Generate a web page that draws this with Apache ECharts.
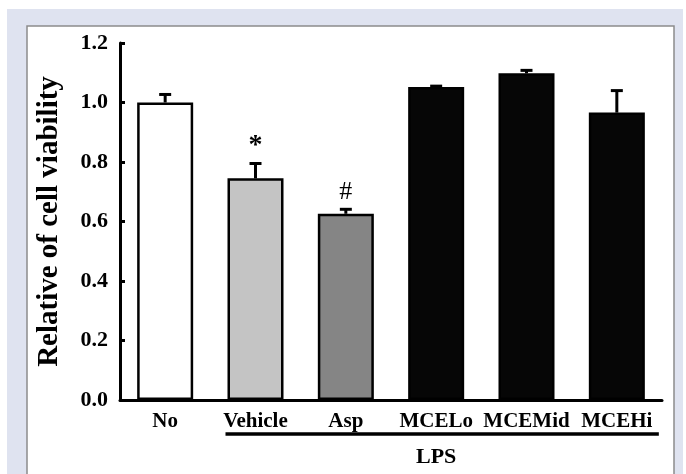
<!DOCTYPE html>
<html>
<head>
<meta charset="utf-8">
<script src="https://cdn.jsdelivr.net/npm/echarts@6/dist/echarts.min.js"></script>
<style>
    body{margin:0;background:#ffffff;}
    #main{width:686px;height:474px;}
</style>
</head>
<body>
<div id="main"></div>
<script>
let categories = ['No', 'Vehicle', 'Asp', 'MCELo', 'MCEMid', 'MCEHi'];
let viability = [1.0, 0.745, 0.626, 1.052, 1.098, 0.966];
let sem = [0.027, 0.05, 0.015, 0.003, 0.01, 0.074];
let signs = ['', '*', '#', '', '', ''];
let barColors = ['#ffffff', '#c4c4c4', '#858585', '#060606', '#060606', '#060606'];
let yTicks = ['0.0', '0.2', '0.4', '0.6', '0.8', '1.0', '1.2'];
let groupLabel = 'LPS';
let groupFrom = 'Vehicle';
let groupTo = 'MCEHi';

let font = '"Liberation Serif", "Times New Roman", serif';

function frame(){
    return [
        {type: 'rect', z: -10, shape: {x: 7, y: 9, width: 676, height: 470}, style: {fill: '#dfe3f0'}},
        {type: 'rect', z: -9, shape: {x: 27, y: 26, width: 647, height: 460}, style: {fill: '#ffffff', stroke: '#8c8c8c', lineWidth: 1.5}}
    ];
}

function main_chart(){
    let myChart = echarts.init(document.getElementById('main'));

    let bar_data = [];
    let err_data = [];
    for(let i = 0; i < categories.length; i++){
        bar_data.push({
            value: viability[i],
            itemStyle: {color: barColors[i]}
        });
        err_data.push([i, viability[i], sem[i], signs[i]]);
    }

    let option = {
        animation: false,
        backgroundColor: '#ffffff',
        graphic: frame(),
        grid: {left: 120, right: 24, top: 43, bottom: 74},
        xAxis: {
            type: 'category',
            data: categories,
            axisLine: {lineStyle: {color: '#000', width: 3}},
            axisTick: {show: false},
            axisLabel: {
                interval: 0,
                color: '#000',
                fontFamily: font,
                fontWeight: 'bold',
                fontSize: 21,
                margin: 11
            }
        },
        yAxis: {
            type: 'value',
            min: 0,
            max: 1.2,
            interval: 0.2,
            name: 'Relative of cell viability',
            nameLocation: 'middle',
            nameGap: 56,
            nameTextStyle: {
                color: '#000',
                fontFamily: font,
                fontWeight: 'bold',
                fontSize: 29
            },
            axisLine: {show: true, lineStyle: {color: '#000', width: 3}},
            axisTick: {show: true, inside: true, length: 5, lineStyle: {color: '#000', width: 3}},
            splitLine: {show: false},
            axisLabel: {
                color: '#000',
                fontFamily: font,
                fontWeight: 'bold',
                fontSize: 22,
                margin: 12,
                formatter: function(v){
                    let k = Math.round(v / 0.2);
                    return yTicks[k] !== undefined ? yTicks[k] : v.toFixed(1);
                }
            }
        },
        series: [{
            type: 'bar',
            data: bar_data,
            barWidth: '62%',
            itemStyle: {borderColor: '#000', borderWidth: 2.5},
            z: 2
        }, {
            type: 'custom',
            data: err_data,
            z: 3,
            renderItem: function(params, api){
                let base = api.coord([api.value(0), api.value(1)]);
                let top = api.coord([api.value(0), api.value(1) + api.value(2)]);
                let x = base[0];
                let children = [
                    {type: 'line', shape: {x1: x, y1: base[1], x2: x, y2: top[1]}, style: {stroke: '#000', lineWidth: 3}},
                    {type: 'line', shape: {x1: x - 6, y1: top[1], x2: x + 6, y2: top[1]}, style: {stroke: '#000', lineWidth: 3}}
                ];
                let s = err_data[params.dataIndex][3];
                if(s){
                    children.push({
                        type: 'text',
                        style: {
                            text: s,
                            x: x,
                            y: top[1] - 4,
                            align: 'center',
                            verticalAlign: 'bottom',
                            fill: '#000',
                            font: (s === '*' ? 'bold 28px ' : '26px ') + font
                        }
                    });
                }
                return {type: 'group', children: children};
            }
        }]
    };
    myChart.setOption(option);

    // LPS bracket below the treated groups
    let p1 = myChart.convertToPixel({xAxisIndex: 0}, groupFrom);
    let p2 = myChart.convertToPixel({xAxisIndex: 0}, groupTo);
    let y0 = myChart.convertToPixel({yAxisIndex: 0}, 0);
    let g = frame();
    g.push({type: 'line', shape: {x1: p1 - 30, y1: y0 + 34, x2: p2 + 42, y2: y0 + 34}, style: {stroke: '#000', lineWidth: 3.5}});
    g.push({type: 'text', style: {text: groupLabel, x: (p1 + p2) / 2, y: y0 + 57, align: 'center', verticalAlign: 'middle', fill: '#000', font: 'bold 22px ' + font}});
    myChart.setOption({graphic: g});
}

main_chart();
</script>
</body>
</html>
